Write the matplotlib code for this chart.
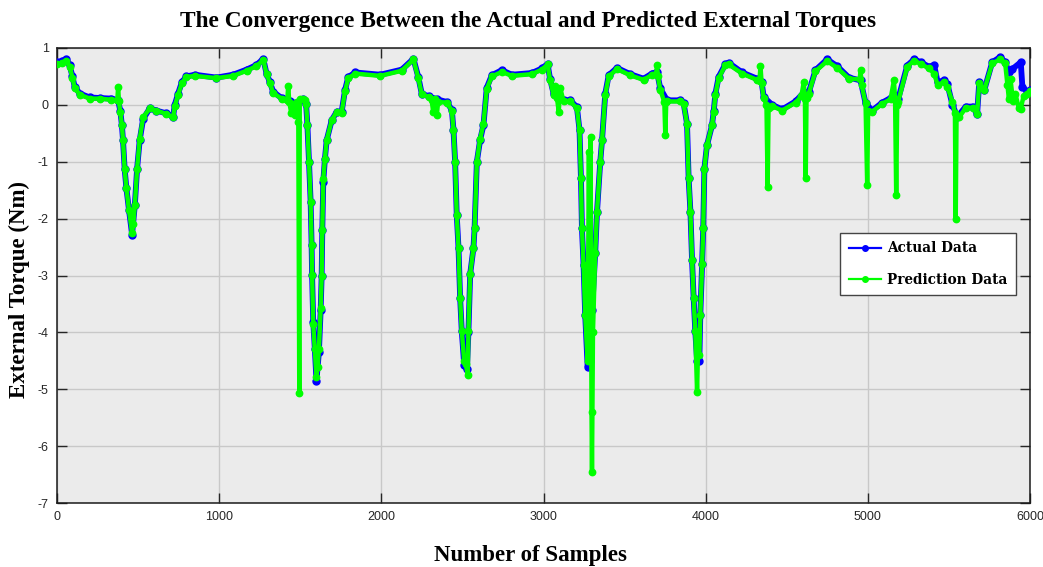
import matplotlib
matplotlib.use("Agg")
import matplotlib.pyplot as plt
from matplotlib.lines import Line2D

plt.rcParams["axes.unicode_minus"] = False

# ---------------- data ----------------
actual_x = [0, 30, 58, 78, 95, 109, 140, 202, 264, 336, 377, 390, 400, 407, 417, 428, 444, 463, 480, 494,
            510, 531, 572, 613, 675, 716, 726, 747, 770, 798, 850, 983, 1086, 1169, 1230, 1272, 1292, 1313, 1333, 1385,
            1436, 1480, 1519, 1536, 1544, 1554, 1564, 1570, 1573, 1580, 1590, 1600, 1615, 1626, 1632, 1636, 1642, 1652, 1663, 1694,
            1725, 1755, 1776, 1796, 1840, 1993, 2126, 2198, 2228, 2249, 2291, 2342, 2404, 2435, 2445, 2455, 2465, 2476, 2486, 2496,
            2511, 2528, 2537, 2548, 2568, 2575, 2589, 2609, 2630, 2650, 2681, 2743, 2805, 2928, 2990, 3025, 3041, 3062, 3124, 3165,
            3206, 3222, 3231, 3237, 3247, 3257, 3272, 3285, 3300, 3319, 3330, 3350, 3361, 3381, 3402, 3453, 3535, 3617, 3669, 3700,
            3720, 3762, 3844, 3864, 3885, 3895, 3906, 3916, 3926, 3936, 3947, 3961, 3967, 3978, 3985, 3992, 4008, 4039, 4050, 4060,
            4080, 4122, 4142, 4225, 4317, 4345, 4358, 4410, 4472, 4554, 4605, 4636, 4677, 4749, 4811, 4883, 4955, 4986, 5027, 5089,
            5140, 5161, 5187, 5243, 5285, 5326, 5377, 5409, 5430, 5470, 5490, 5522, 5552, 5604, 5646, 5674, 5687, 5718, 5767, 5816,
            5847, 5870, 5891, 5943, 5953, 5984, 6000]
actual_y = [0.75, 0.77, 0.81, 0.70, 0.50, 0.32, 0.20, 0.13, 0.12, 0.11, 0.08, -0.10, -0.35, -0.62, -1.12, -1.47, -1.85, -2.28, -1.76, -1.12,
            -0.62, -0.25, -0.06, -0.10, -0.15, -0.21, 0.00, 0.20, 0.40, 0.50, 0.53, 0.48, 0.53, 0.62, 0.70, 0.81, 0.55, 0.40, 0.23, 0.12,
            0.06, 0.03, 0.10, 0.02, -0.35, -1.00, -1.70, -2.46, -2.99, -3.81, -4.30, -4.85, -4.35, -3.60, -3.00, -2.20, -1.35, -0.95, -0.62, -0.27,
            -0.12, -0.13, 0.26, 0.49, 0.57, 0.53, 0.62, 0.81, 0.49, 0.20, 0.15, 0.10, 0.05, -0.09, -0.44, -1.00, -1.94, -2.52, -3.40, -3.98,
            -4.57, -4.65, -4.00, -2.97, -2.52, -2.17, -1.00, -0.62, -0.35, 0.30, 0.52, 0.61, 0.53, 0.56, 0.64, 0.72, 0.45, 0.20, 0.08, 0.08,
            -0.04, -0.44, -1.29, -2.17, -2.81, -3.69, -4.60, -4.50, -3.60, -2.60, -1.88, -1.00, -0.62, 0.20, 0.52, 0.65, 0.54, 0.46, 0.55, 0.58,
            0.29, 0.08, 0.08, 0.03, -0.33, -1.29, -1.88, -2.73, -3.40, -3.98, -4.50, -4.50, -3.69, -2.80, -2.17, -1.12, -0.71, -0.36, -0.10, 0.20,
            0.49, 0.72, 0.74, 0.57, 0.46, 0.40, 0.14, 0.00, -0.08, 0.06, 0.22, 0.22, 0.61, 0.80, 0.68, 0.48, 0.43, 0.03, -0.10, 0.04,
            0.12, 0.18, 0.10, 0.69, 0.80, 0.75, 0.67, 0.70, 0.40, 0.43, 0.37, 0.00, -0.21, -0.03, -0.03, -0.16, 0.40, 0.26, 0.75, 0.84,
            0.75, 0.57, 0.63, 0.75, 0.32, 0.23, 0.26]

pred_x = [0, 30, 58, 78, 95, 109, 140, 202, 264, 336, 372, 377, 382, 390, 400, 407, 417, 428, 444, 463,
          470, 480, 494, 510, 531, 572, 613, 675, 716, 726, 747, 770, 798, 850, 983, 1086, 1169, 1230, 1272, 1292,
          1313, 1333, 1385, 1420, 1426, 1432, 1445, 1455, 1470, 1480, 1488, 1494, 1497, 1519, 1530, 1536, 1544, 1554, 1564, 1570,
          1573, 1580, 1590, 1600, 1607, 1615, 1626, 1632, 1636, 1642, 1652, 1663, 1694, 1725, 1755, 1776, 1796, 1840, 1993, 2126,
          2198, 2228, 2249, 2291, 2310, 2320, 2330, 2342, 2350, 2404, 2435, 2445, 2455, 2465, 2476, 2486, 2496, 2511, 2520, 2533,
          2537, 2548, 2568, 2575, 2589, 2609, 2630, 2650, 2681, 2743, 2805, 2928, 2990, 3025, 3041, 3062, 3072, 3083, 3094, 3103,
          3124, 3165, 3206, 3222, 3231, 3237, 3247, 3257, 3272, 3280, 3286, 3290, 3296, 3299, 3305, 3319, 3330, 3350, 3361, 3381,
          3402, 3453, 3535, 3617, 3669, 3695, 3700, 3705, 3720, 3745, 3751, 3757, 3762, 3844, 3864, 3885, 3895, 3906, 3916, 3926,
          3936, 3947, 3952, 3961, 3967, 3978, 3985, 3992, 4008, 4039, 4050, 4060, 4080, 4122, 4142, 4225, 4317, 4332, 4338, 4345,
          4358, 4375, 4382, 4388, 4410, 4472, 4554, 4590, 4605, 4612, 4617, 4622, 4636, 4677, 4749, 4811, 4883, 4950, 4955, 4962,
          4986, 4996, 5002, 5027, 5089, 5140, 5161, 5168, 5175, 5181, 5187, 5243, 5285, 5326, 5377, 5409, 5430, 5470, 5490, 5522,
          5537, 5542, 5547, 5563, 5604, 5646, 5674, 5687, 5718, 5767, 5816, 5847, 5861, 5870, 5880, 5895, 5910, 5930, 5943, 5960,
          5984, 6000]
pred_y = [0.72, 0.74, 0.78, 0.67, 0.48, 0.30, 0.18, 0.11, 0.11, 0.09, 0.08, 0.32, 0.06, -0.12, -0.35, -0.62, -1.12, -1.47, -1.85, -2.25,
          -2.10, -1.76, -1.12, -0.60, -0.22, -0.06, -0.10, -0.16, -0.22, -0.02, 0.18, 0.38, 0.49, 0.51, 0.47, 0.51, 0.60, 0.68, 0.79, 0.55,
          0.38, 0.21, 0.11, 0.08, 0.34, 0.05, -0.15, 0.02, -0.18, 0.05, -0.30, -5.06, 0.10, 0.10, 0.08, 0.02, -0.35, -1.00, -1.70, -2.46,
          -2.99, -3.85, -4.30, -4.78, -4.60, -4.30, -3.57, -3.00, -2.20, -1.30, -0.95, -0.62, -0.27, -0.12, -0.14, 0.24, 0.47, 0.55, 0.51, 0.60,
          0.80, 0.47, 0.19, 0.14, 0.08, -0.12, 0.10, -0.18, 0.05, 0.04, -0.10, -0.44, -1.00, -1.94, -2.52, -3.40, -3.98, -4.50, -4.55, -4.75,
          -3.98, -2.97, -2.52, -2.17, -1.00, -0.60, -0.33, 0.28, 0.50, 0.58, 0.51, 0.54, 0.62, 0.71, 0.43, 0.18, 0.34, 0.12, -0.12, 0.30,
          0.06, 0.06, -0.06, -0.44, -1.29, -2.17, -2.81, -3.69, -4.50, -0.82, -4.00, -0.56, -5.40, -6.45, -4.00, -2.60, -1.88, -1.00, -0.62, 0.18,
          0.50, 0.63, 0.52, 0.44, 0.53, 0.55, 0.70, 0.50, 0.27, 0.05, -0.53, 0.05, 0.06, 0.06, 0.01, -0.33, -1.29, -1.88, -2.73, -3.40,
          -3.98, -5.05, -4.40, -4.40, -3.69, -2.80, -2.17, -1.12, -0.71, -0.36, -0.12, 0.18, 0.47, 0.70, 0.71, 0.55, 0.44, 0.42, 0.69, 0.38,
          0.12, 0.00, -1.44, -0.05, -0.02, -0.10, 0.04, 0.15, 0.40, 0.10, -1.28, 0.12, 0.20, 0.59, 0.77, 0.65, 0.46, 0.45, 0.61, 0.35,
          0.03, -1.40, -0.10, -0.12, 0.02, 0.10, 0.43, 0.10, -1.59, 0.00, 0.05, 0.67, 0.78, 0.72, 0.64, 0.55, 0.35, 0.40, 0.32, 0.05,
          -0.15, -2.00, -0.20, -0.22, -0.05, -0.05, -0.16, 0.38, 0.26, 0.73, 0.80, 0.73, 0.35, 0.10, 0.45, 0.06, 0.20, -0.05, -0.07, 0.15,
          0.20, 0.24]

x_ticks = [0, 1000, 2000, 3000, 4000, 5000, 6000]
y_ticks = [-7, -6, -5, -4, -3, -2, -1, 0, 1]

title_text = "The Convergence Between the Actual and Predicted External Torques"
x_label = "Number of Samples"
y_label = "External Torque (Nm)"
legend_labels = ["Actual Data", "Prediction Data"]

# ---------------- figure ----------------
fig = plt.figure(figsize=(10.43, 5.67), dpi=100)
ax = fig.add_axes([57 / 1043, 1 - 503 / 567, 973 / 1043, 455 / 567])
ax.set_facecolor("#ebebeb")

ax.plot(actual_x, actual_y, color="#0000ff", lw=4.2, marker="o", ms=5,
        solid_joinstyle="round", zorder=3)
ax.plot(pred_x, pred_y, color="#00ff00", lw=3.2, marker="o", ms=4.6,
        solid_joinstyle="round", zorder=4)

ax.set_xlim(0, 6000)
ax.set_ylim(-7, 1)
ax.set_xticks(x_ticks)
ax.set_yticks(y_ticks)
ax.grid(True, color="#c8c8c8", lw=1.0)
ax.set_axisbelow(True)
ax.tick_params(direction="in", length=7.5, width=1.0, top=True, right=True,
               labelsize=9, colors="#262626", pad=6)
for lab in ax.get_xticklabels() + ax.get_yticklabels():
    lab.set_family("Liberation Sans")
for sp in ax.spines.values():
    sp.set_color("#1a1a1a")
    sp.set_linewidth(1.1)

fig.text(0.506, 0.962, title_text, ha="center", va="center",
         family="Liberation Serif", fontweight="bold", fontsize=16.8)
fig.text(0.509, 0.021, x_label, ha="center", va="center",
         family="Liberation Serif", fontweight="bold", fontsize=16.5)
fig.text(0.019, 0.49, y_label, ha="center", va="center", rotation=90,
         family="Liberation Serif", fontweight="bold", fontsize=16.5)

handles = [Line2D([], [], color="#0000ff", lw=1.6, marker="o", ms=4),
           Line2D([], [], color="#00ff00", lw=1.6, marker="o", ms=4)]
leg = ax.legend(handles, legend_labels, loc="upper right",
                bbox_to_anchor=(0.9856, 0.593), borderaxespad=0.0,
                frameon=True, fancybox=False,
                framealpha=1, edgecolor="#444444", handlelength=2.4,
                borderpad=0.6, labelspacing=1.3, handletextpad=0.45,
                prop={"family": "DejaVu Serif", "weight": "bold", "size": 9.8})
leg.get_frame().set_linewidth(1.0)
leg.set_zorder(10)

fig.savefig("out.png", dpi=100)
